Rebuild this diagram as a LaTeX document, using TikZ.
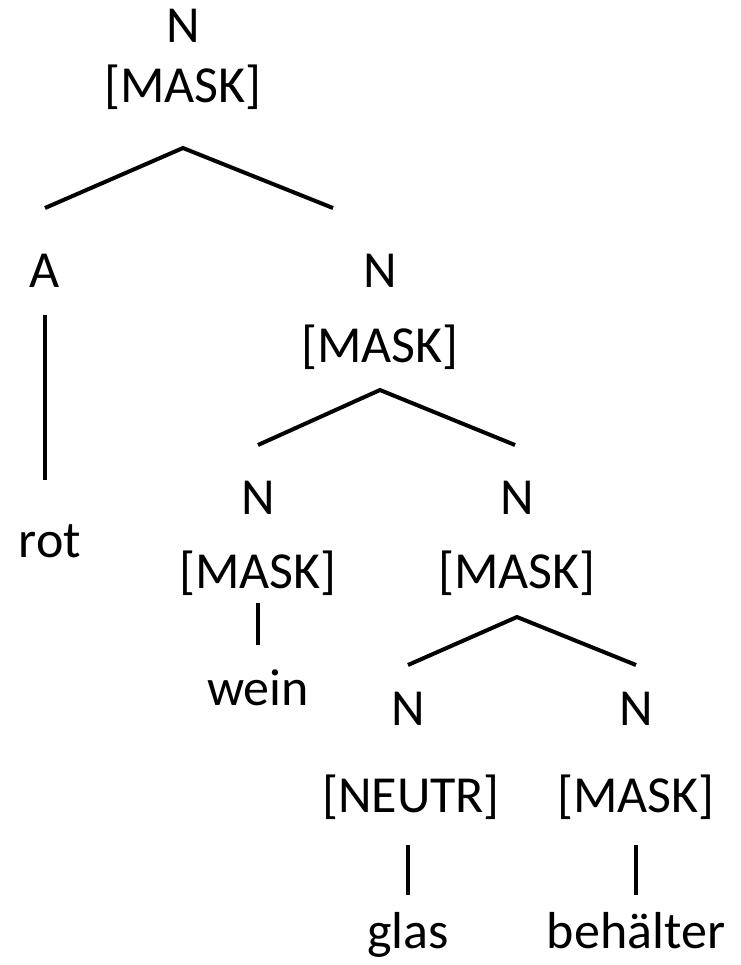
\documentclass[tikz,border=0pt]{standalone}
\usepackage{fontspec}
\setmainfont{Carlito}
\usetikzlibrary{positioning}
\tikzset{lbl/.style={anchor=base, inner sep=0pt, font=\fontsize{39}{46}\selectfont},
         branch/.style={line width=3pt}}

\begin{document}
\begin{tikzpicture}[x=0.75pt,y=-0.75pt]
        \useasboundingbox (0,0) rectangle (740,965);

        % top
        \node [lbl] (nTop) at (183,42) {N};
        \node [lbl] (mTop) at (183,102) {[MASK]};
        \coordinate (jTop) at (183,148);
        \coordinate (jTopL) at (45,208);
        \coordinate (jTopR) at (333,208);

        % left branch
        \node [lbl] (aL) at (45,287) {A};
        \coordinate (aLend) at (45,315);
        \coordinate (rotend) at (45,480);
        \node [lbl] (rot) at (50,557) {rot};

        % second level
        \node [lbl] (nMid) at (380,287) {N};
        \node [lbl] (mMid) at (380,362) {[MASK]};
        \coordinate (jMid) at (380,390);
        \coordinate (jMidL) at (258,445);
        \coordinate (jMidR) at (515,445);

        \node [lbl] (nWein) at (258,514) {N};
        \node [lbl] (mWein) at (258,588) {[MASK]};
        \coordinate (weintop) at (258,603);
        \coordinate (weinend) at (258,645);
        \node [lbl] (wein) at (258,705) {wein};

        \node [lbl] (nComp) at (517,514) {N};
        \node [lbl] (mComp) at (517,588) {[MASK]};
        \coordinate (jComp) at (517,617);
        \coordinate (jCompL) at (408,665);
        \coordinate (jCompR) at (636,665);

        % bottom level
        \node [lbl] (nGlas) at (408,725) {N};
        \node [lbl] (mGlas) at (411,812) {[NEUTR]};
        \coordinate (glastop) at (408,845);
        \coordinate (glasend) at (408,895);
        \node [lbl] (glas) at (408,948) {glas};

        \node [lbl] (nBeh) at (636,725) {N};
        \node [lbl] (mBeh) at (636,812) {[MASK]};
        \coordinate (behtop) at (636,845);
        \coordinate (behend) at (636,895);
        \node [lbl] (beh) at (636,948) {behälter};

        % branches
        \draw [branch] (jTopL) -- (jTop) -- (jTopR);
        \draw [branch] (aLend) -- (rotend);
        \draw [branch] (jMidL) -- (jMid) -- (jMidR);
        \draw [branch] (weintop) -- (weinend);
        \draw [branch] (jCompL) -- (jComp) -- (jCompR);
        \draw [branch] (glastop) -- (glasend);
        \draw [branch] (behtop) -- (behend);
\end{tikzpicture}
\end{document}
